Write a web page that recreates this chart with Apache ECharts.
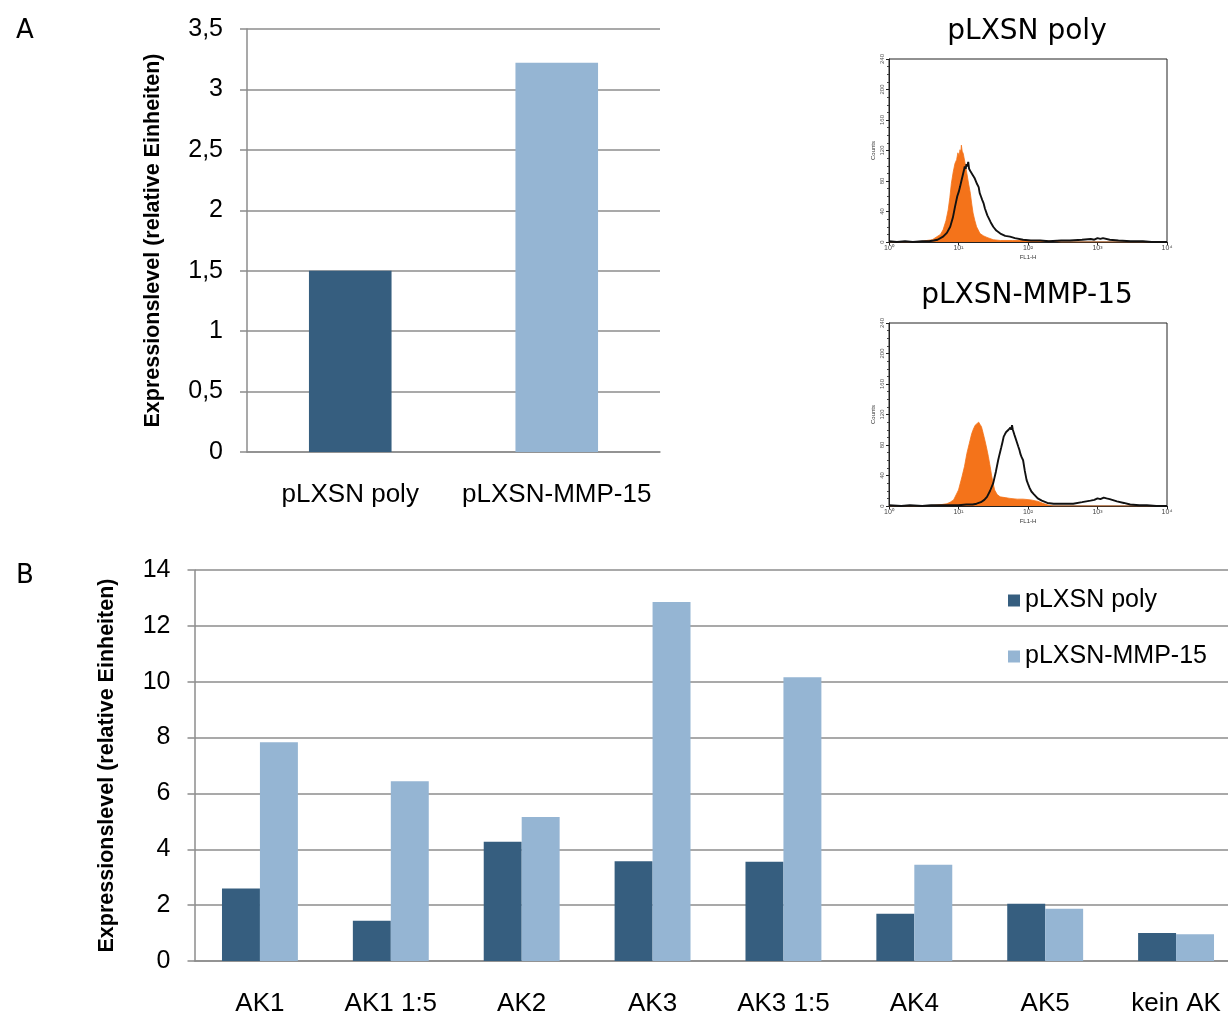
<!DOCTYPE html>
<html>
<head>
<meta charset="utf-8">
<script src="https://cdn.jsdelivr.net/npm/echarts@6/dist/echarts.min.js"></script>
<style>
  html, body { margin: 0; padding: 0; background: #fff; overflow: hidden; }
  /* the lower panel's last category runs slightly past the right edge of the page */
  #chart { width: 1242px; height: 1017px; }
</style>
</head>
<body>
<div id="chart"></div>
<script>
// ---- Panel A: overall expression level ----
const panelACategories = ['pLXSN poly', 'pLXSN-MMP-15'];
const panelAValues = [1.5, 3.22];
const panelATicks = { min: 0, max: 3.5, step: 0.5 };

// ---- Panel B: expression level per antibody ----
const seriesNames = ['pLXSN poly', 'pLXSN-MMP-15'];
const panelBCategories = ['AK1', 'AK1 1:5', 'AK2', 'AK3', 'AK3 1:5', 'AK4', 'AK5', 'kein AK'];
const panelBPoly = [2.6, 1.44, 4.27, 3.57, 3.55, 1.69, 2.05, 1.0];
const panelBMmp15 = [7.83, 6.44, 5.16, 12.85, 10.16, 3.45, 1.87, 0.96];
const panelBTicks = { min: 0, max: 14, step: 2 };

// ---- FACS histograms: [FL1-H, Counts] ----
const polyControl = [[1,0],[2,0],[3,1],[3.5,2],[4.2,3],[4.9,7],[5.5,10],[6,16],[6.6,28],[7.1,42],[7.5,58],[7.9,77],[8.4,92],[8.9,103],[9.4,108],[9.8,117],[10.2,113],[10.5,121],[10.8,118],[11,127],[11.3,119],[11.7,116],[12.4,104],[13.2,90],[14,76],[14.8,64],[15.5,50],[16.2,38],[17.2,28],[18.2,20],[20.4,11],[23,8],[25.7,6],[31.6,3],[40,2],[60,2],[100,2],[150,2],[250,1],[300,0],[10000,0]];
const polyStained = [[1,1],[1.3,0],[1.7,1],[2.2,0],[3,1],[3.8,1],[4.4,2],[5,3],[6,7],[6.8,12],[7.6,20],[8.3,32],[8.9,46],[9.6,60],[10.1,66],[10.5,72],[11,80],[11.4,86],[11.9,93],[12.3,99],[12.7,96],[13,102],[13.4,99],[13.8,105],[14.2,96],[14.5,98],[15,92],[15.5,94],[16,88],[16.5,90],[17,84],[17.5,82],[18.5,76],[19.5,72],[20.2,64],[21,60],[22,55],[22.9,51],[24,44],[25,42],[26,35],[27,33],[29,26],[31.6,20],[35,15],[40,11],[47,8],[55,7],[65,5],[85,3],[110,2],[150,2],[200,1],[300,2],[400,2],[600,3],[800,4],[900,3],[1000,5],[1100,4],[1200,5],[1500,3],[2000,2],[3000,1],[4500,1],[6000,0],[10000,0]];
const mmpControl = [[1,0],[3,0],[4.5,1],[5.8,2],[6.8,3],[7.6,5],[8.5,8],[10,21],[11.2,38],[12.2,52],[13.2,69],[14.3,82],[15.5,95],[16.4,101],[17.4,106],[18.4,108],[19.5,110],[20.4,107],[21.4,104],[22.7,95],[24,86],[25.4,76],[26.9,65],[28.5,52],[30.2,38],[33.1,21],[36,15],[39.8,12],[47,11],[55,10],[70,9],[85,9],[110,8],[140,6],[170,3],[200,1],[230,0],[10000,0]];
const mmpStained = [[1,1],[1.5,0],[2,1],[3,0],[4,1],[6,1],[8,1],[10,1],[13,2],[16,2],[18.2,3],[21,5],[23.5,8],[25.7,12],[28.5,20],[31.6,30],[34.5,45],[37.2,60],[39,68],[41,76],[43,84],[44.7,91],[46.5,94],[48.5,97],[50.5,95],[52.5,100],[54,98],[55.7,103],[57.3,100],[58.9,106],[60.5,100],[62,98],[64,93],[66,91],[69,84],[72.4,78],[75,74],[78,68],[81,64],[85,60],[90,46],[95.5,34],[100,29],[105,24],[112,19],[120,16],[138,10],[158,7],[190,4],[234,3],[300,3],[447,3],[600,5],[794,7],[900,8],[1000,10],[1100,9],[1230,11],[1350,10],[1500,9],[1905,6],[2400,4],[2951,2],[4000,1],[5129,1],[7000,0],[10000,0]];
const countRange = { min: 0, max: 240, step: 40 };
const fl1Range = { min: 1, max: 10000 };

const darkBlue = '#365E7F';
const lightBlue = '#95B5D3';
const facsOrange = '#F4731A';
const gridGrey = '#8C8C8C';
const excelFont = '"Liberation Sans", Arial, sans-serif';
const labelFont = '"DejaVu Sans", sans-serif';

const commaFormat = v => String(v).replace('.', ',');
const superDigits = ['\u2070', '\u00B9', '\u00B2', '\u00B3', '\u2074'];
const decadeFormat = v => '10' + superDigits[Math.round(Math.log10(v))];

function excelValueAxis(gridIndex, ticks, name, nameGap) {
  return {
    type: 'value', gridIndex,
    min: ticks.min, max: ticks.max, interval: ticks.step,
    name, nameLocation: 'middle', nameRotate: 90, nameGap,
    nameTextStyle: { fontFamily: excelFont, fontSize: 21.5, fontWeight: 'bold', color: '#000' },
    axisLine: { show: true, lineStyle: { color: gridGrey, width: 1.5 } },
    axisTick: { show: true, length: 7, lineStyle: { color: gridGrey, width: 1.5 } },
    axisLabel: { fontFamily: excelFont, fontSize: 25, color: '#000', margin: 24, formatter: commaFormat },
    splitLine: { show: true, lineStyle: { color: gridGrey, width: 1.5 } }
  };
}

function excelCategoryAxis(gridIndex, data) {
  return {
    type: 'category', gridIndex, data,
    axisLine: { show: true, lineStyle: { color: gridGrey, width: 1.5 } },
    axisTick: { show: false },
    axisLabel: { fontFamily: excelFont, fontSize: 26, color: '#000', margin: 30, interval: 0 }
  };
}

function facsAxes(gridIndex) {
  return {
    x: {
      type: 'log', logBase: 10, gridIndex, min: fl1Range.min, max: fl1Range.max,
      name: 'FL1-H', nameLocation: 'middle', nameGap: 12,
      nameTextStyle: { fontFamily: excelFont, fontSize: 6, color: '#333' },
      axisLine: { show: true, lineStyle: { color: '#222', width: 1 } },
      axisTick: { show: true, length: 3, lineStyle: { color: '#222' } },
      axisLabel: { fontFamily: excelFont, fontSize: 7, color: '#444', margin: 3, formatter: decadeFormat },
      splitLine: { show: false }
    },
    y: {
      type: 'value', gridIndex, min: countRange.min, max: countRange.max, interval: countRange.step,
      name: 'Counts', nameLocation: 'middle', nameRotate: 90, nameGap: 13,
      nameTextStyle: { fontFamily: excelFont, fontSize: 6, color: '#333' },
      axisLine: { show: true, lineStyle: { color: '#222', width: 1 } },
      axisTick: { show: true, length: 3, lineStyle: { color: '#222' } },
      minorTick: { show: true, splitNumber: 4, length: 2, lineStyle: { color: '#444' } },
      axisLabel: { fontFamily: excelFont, fontSize: 6, color: '#555', margin: 4, rotate: 90 },
      splitLine: { show: false }
    }
  };
}

const facs1 = facsAxes(2);
const facs2 = facsAxes(3);

function controlSeries(idx, data) {
  return {
    type: 'line', xAxisIndex: idx, yAxisIndex: idx, data, showSymbol: false, z: 2,
    lineStyle: { color: facsOrange, width: 0.8 },
    areaStyle: { color: facsOrange, opacity: 1 }, silent: true
  };
}
function stainedSeries(idx, data) {
  return {
    type: 'line', xAxisIndex: idx, yAxisIndex: idx, data, showSymbol: false, z: 3,
    lineStyle: { color: '#111', width: 1.9 }, silent: true
  };
}

const chart = echarts.init(document.getElementById('chart'), null, { renderer: 'canvas' });
chart.setOption({
  animation: false,
  backgroundColor: '#fff',
  title: [
    { text: 'A', left: 11, top: 13, textStyle: { fontFamily: labelFont, fontSize: 26, fontWeight: 'normal', color: '#000' } },
    { text: 'B', left: 11, top: 558, textStyle: { fontFamily: labelFont, fontSize: 26, fontWeight: 'normal', color: '#000' } },
    { text: 'pLXSN poly', left: 1022, top: 13, textAlign: 'center', textStyle: { fontFamily: labelFont, fontSize: 28, fontWeight: 'normal', color: '#000' } },
    { text: 'pLXSN-MMP-15', left: 1022, top: 277, textAlign: 'center', textStyle: { fontFamily: labelFont, fontSize: 28, fontWeight: 'normal', color: '#000' } }
  ],
  legend: {
    data: seriesNames, orient: 'vertical', left: 1003, top: 583,
    itemWidth: 12, itemHeight: 12, itemGap: 31, icon: 'rect',
    textStyle: { fontFamily: excelFont, fontSize: 25, color: '#000' }
  },
  grid: [
    { left: 247, top: 29, width: 413, height: 423 },
    { left: 194.5, top: 570, width: 1047, height: 393 },
    { left: 889, top: 59, width: 278, height: 183, show: true, borderColor: '#222', borderWidth: 1, backgroundColor: 'transparent' },
    { left: 889, top: 323, width: 278, height: 183, show: true, borderColor: '#222', borderWidth: 1, backgroundColor: 'transparent' }
  ],
  xAxis: [
    excelCategoryAxis(0, panelACategories),
    excelCategoryAxis(1, panelBCategories),
    facs1.x,
    facs2.x
  ],
  yAxis: [
    excelValueAxis(0, panelATicks, 'Expressionslevel (relative Einheiten)', 83),
    excelValueAxis(1, panelBTicks, 'Expressionslevel (relative Einheiten)', 76),
    facs1.y,
    facs2.y
  ],
  series: [
    {
      type: 'bar', name: 'Gesamt', xAxisIndex: 0, yAxisIndex: 0,
      data: panelAValues.map((v, i) => ({ value: v, itemStyle: { color: [darkBlue, lightBlue][i] } })),
      barCategoryGap: '60%', silent: true
    },
    {
      type: 'bar', name: seriesNames[0], xAxisIndex: 1, yAxisIndex: 1, data: panelBPoly,
      itemStyle: { color: darkBlue }, barGap: '0%', barCategoryGap: '42%', silent: true
    },
    {
      type: 'bar', name: seriesNames[1], xAxisIndex: 1, yAxisIndex: 1, data: panelBMmp15,
      itemStyle: { color: lightBlue }, barGap: '0%', barCategoryGap: '42%', silent: true
    },
    controlSeries(2, polyControl),
    stainedSeries(2, polyStained),
    controlSeries(3, mmpControl),
    stainedSeries(3, mmpStained)
  ]
});
</script>
</body>
</html>
